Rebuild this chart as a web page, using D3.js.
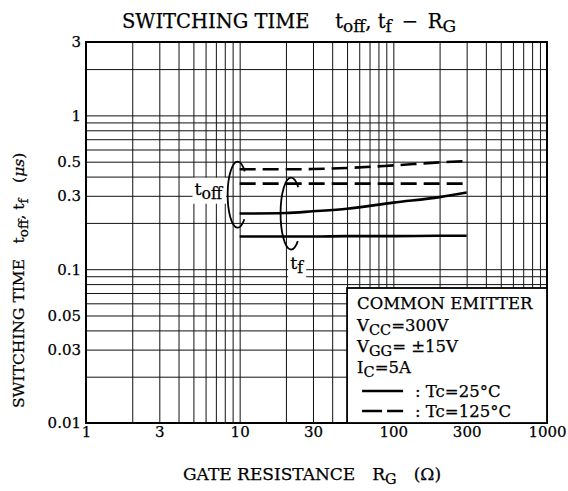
<!DOCTYPE html>
<html><head><meta charset="utf-8">
<script src="https://cdn.jsdelivr.net/npm/d3@7/dist/d3.min.js"></script>
<style>
html,body{margin:0;padding:0;background:#fff;}
svg{display:block;font-family:"DejaVu Serif",serif;}
svg text{stroke:#000;stroke-width:0.25px;fill:#000;}
</style></head>
<body><svg id="c" width="568" height="491"></svg>
<script>
// ---- data ----
const rg = [10, 20, 30, 50, 100, 200, 300];
const toff125 = [0.446, 0.446, 0.448, 0.455, 0.473, 0.495, 0.505];
const tf125 = [0.36, 0.36, 0.36, 0.36, 0.36, 0.36, 0.36];
const toff25 = [0.23, 0.232, 0.238, 0.247, 0.271, 0.294, 0.315];
const tf25 = [0.163, 0.163, 0.163, 0.164, 0.164, 0.165, 0.165];
const xTicks = [1, 3, 10, 30, 100, 300, 1000];
const xTickLabels = ["1", "3", "10", "30", "100", "300", "1000"];
const yTicks = [0.01, 0.03, 0.05, 0.1, 0.3, 0.5, 1, 3];
const yTickLabels = ["0.01", "0.03", "0.05", "0.1", "0.3", "0.5", "1", "3"];

const L = 86, R = 547, T = 42, B = 423;
const svg = d3.select("#c");
const x = d3.scaleLog().domain([1, 1000]).range([L, R]);
const y = d3.scaleLog().domain([0.01, 3]).range([B, T]);

// grid
const xGrid = [];
[1, 10, 100].forEach(d => { for (let m = 1; m <= 9; m++) xGrid.push(d * m); });
xGrid.push(1000);
const yGrid = [];
[0.01, 0.1].forEach(d => { for (let m = 1; m <= 9; m++) yGrid.push(+(d * m).toFixed(3)); });
yGrid.push(1, 2, 3);

const g = svg.append("g");
g.append("g").call(d3.axisBottom(x).tickValues(xGrid).tickSize(-(B - T)).tickFormat(""))
  .attr("transform", `translate(0,${B})`)
  .call(a => a.select(".domain").remove())
  .call(a => a.selectAll("line").attr("stroke", "#111").attr("stroke-width", 1));
g.append("g").call(d3.axisLeft(y).tickValues(yGrid).tickSize(-(R - L)).tickFormat(""))
  .attr("transform", `translate(${L},0)`)
  .call(a => a.select(".domain").remove())
  .call(a => a.selectAll("line").attr("stroke", "#111").attr("stroke-width", 1));

// tick labels
g.append("g").attr("transform", `translate(0,${B})`)
  .call(d3.axisBottom(x).tickValues(xTicks).tickSize(0).tickPadding(3)
    .tickFormat((d, i) => xTickLabels[i]))
  .call(a => a.select(".domain").remove())
  .call(a => a.selectAll("text").attr("font-family", "DejaVu Serif").attr("font-size", 15).attr("fill", "#000"));
g.append("g").attr("transform", `translate(${L},0)`)
  .call(d3.axisLeft(y).tickValues(yTicks).tickSize(0).tickPadding(5)
    .tickFormat((d, i) => yTickLabels[i]))
  .call(a => a.select(".domain").remove())
  .call(a => a.selectAll("text").attr("font-family", "DejaVu Serif").attr("font-size", 15).attr("fill", "#000"));

// frame
svg.append("rect").attr("x", L).attr("y", T).attr("width", R - L).attr("height", B - T)
  .attr("fill", "none").attr("stroke", "#000").attr("stroke-width", 2);

// curves
const line = d3.line().x(d => x(d[0])).y(d => y(d[1])).curve(d3.curveMonotoneX);
const series = [
  {v: toff125, dash: "16,7"},
  {v: tf125, dash: "16,7"},
  {v: toff25, dash: null},
  {v: tf25, dash: null}
];
series.forEach(s => {
  svg.append("path").datum(rg.map((r, i) => [r, s.v[i]]))
    .attr("d", line).attr("fill", "none").attr("stroke", "#000")
    .attr("stroke-width", 2.6).attr("stroke-dasharray", s.dash);
});

// annotation ellipses (open arcs)
function openEllipse(cxv, cyv, rx, ry, a1, a2) {
  const cx = x(cxv), cy = y(cyv);
  const p1 = [cx + rx * Math.cos(a1), cy + ry * Math.sin(a1)];
  const p2 = [cx + rx * Math.cos(a2), cy + ry * Math.sin(a2)];
  svg.append("path")
    .attr("d", `M${p1[0]},${p1[1]} A${rx},${ry} 0 1 0 ${p2[0]},${p2[1]}`)
    .attr("fill", "none").attr("stroke", "#000").attr("stroke-width", 1.8);
}
const rad = Math.PI / 180;
openEllipse(9.7, 0.305, 10, 33, -45 * rad, 48 * rad);
openEllipse(21.6, 0.23, 10.5, 36, -47 * rad, 50 * rad);

// labels toff, tf with white background
function subLabel(xv, yv, main, sub, anchor, size) {
  const t = svg.append("text").attr("x", x(xv)).attr("y", y(yv))
    .attr("font-size", size).attr("text-anchor", anchor);
  t.append("tspan").text(main);
  t.append("tspan").attr("dy", 4).attr("font-size", size * 0.9).text(sub);
  const bb = t.node().getBBox();
  svg.insert("rect", () => t.node()).attr("x", bb.x - 2).attr("y", bb.y - 1)
    .attr("width", bb.width + 4).attr("height", bb.height + 2).attr("fill", "#fff");
  return t;
}
subLabel(7.7, 0.305, "t", "off", "end", 17.5);
subLabel(21.3, 0.1, "t", "f", "start", 17.5);

// legend box
const lx = x(50), ly = 288;
svg.append("rect").attr("x", lx).attr("y", ly).attr("width", R - lx).attr("height", B - ly)
  .attr("fill", "#fff").attr("stroke", "#000").attr("stroke-width", 1.8);
const fs = 16.5;
function legText(yy, parts) {
  const t = svg.append("text").attr("x", lx + 10).attr("y", yy).attr("font-size", fs);
  let shift = 0;
  parts.forEach(p => {
    const ts = t.append("tspan").text(p[0]);
    const target = p[1] ? 4 : 0;
    if (target !== shift) { ts.attr("dy", target - shift); shift = target; }
    if (p[1]) ts.attr("font-size", fs * 0.88);
  });
  return t;
}
legText(309, [["COMMON EMITTER"]]);
legText(331, [["V"], ["CC", 1], ["=300V"]]);
legText(352, [["V"], ["GG", 1], ["= ±15V"]]);
legText(373, [["I"], ["C", 1], ["=5A"]]);
svg.append("line").attr("x1", lx + 15).attr("x2", lx + 56).attr("y1", 391).attr("y2", 391)
  .attr("stroke", "#000").attr("stroke-width", 2.6);
svg.append("line").attr("x1", lx + 15).attr("x2", lx + 56).attr("y1", 411).attr("y2", 411)
  .attr("stroke", "#000").attr("stroke-width", 2.6).attr("stroke-dasharray", "20,5");
svg.append("text").attr("x", lx + 68).attr("y", 397).attr("font-size", fs).text(": Tc=25°C");
svg.append("text").attr("x", lx + 68).attr("y", 417).attr("font-size", fs).text(": Tc=125°C");

// title
const title = svg.append("text").attr("x", 122).attr("y", 28).attr("font-size", 19.5);
title.append("tspan").text("SWITCHING TIME\u2003 t");
title.append("tspan").attr("dy", 4).attr("font-size", 17).text("off");
title.append("tspan").attr("dy", -4).text(", t");
title.append("tspan").attr("dy", 4).attr("font-size", 17).text("f");
title.append("tspan").attr("dy", -4).text("\u2002−\u2002R");
title.append("tspan").attr("dy", 4).attr("font-size", 17).text("G");

// x axis title
const xt = svg.append("text").attr("x", 183).attr("y", 480).attr("font-size", 17);
xt.append("tspan").text("GATE RESISTANCE\u2003R");
xt.append("tspan").attr("dy", 4).attr("font-size", 14.5).text("G");
xt.append("tspan").attr("dy", -4).text("\u2003(Ω)");

// y axis title
const yt = svg.append("text").attr("transform", "translate(24,408) rotate(-90)").attr("font-size", 15.5);
yt.append("tspan").text("SWITCHING TIME\u2003t");
yt.append("tspan").attr("dy", 4).attr("font-size", 13.5).text("off");
yt.append("tspan").attr("dy", -4).text(", t");
yt.append("tspan").attr("dy", 4).attr("font-size", 13.5).text("f");
yt.append("tspan").attr("dy", -4).text("\u2003(");
yt.append("tspan").attr("font-style", "italic").text("μs");
yt.append("tspan").text(")");
</script></body></html>
